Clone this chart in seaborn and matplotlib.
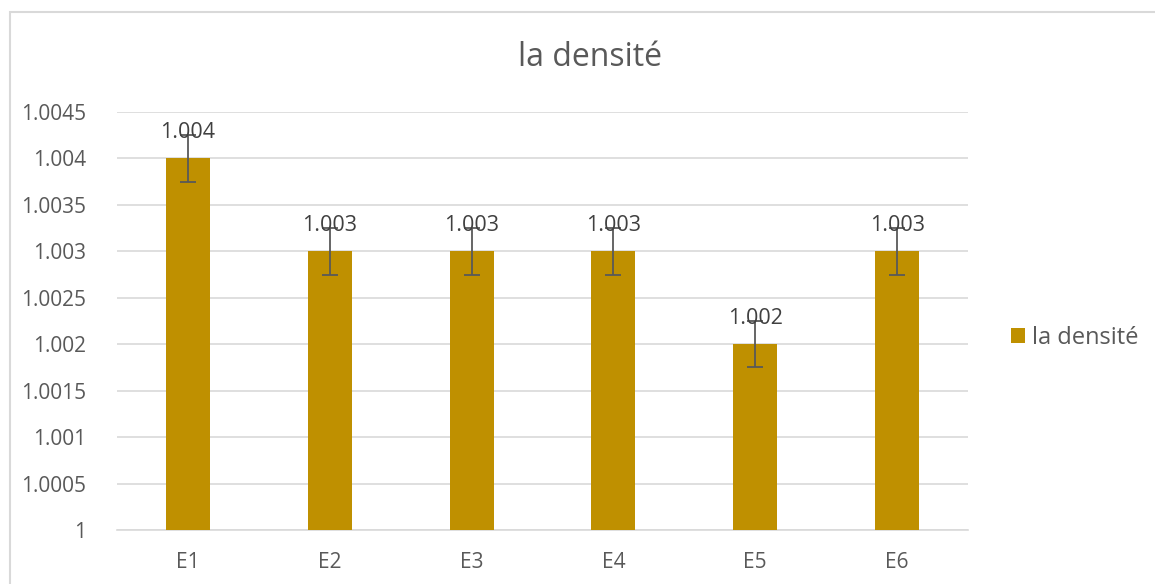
import matplotlib
matplotlib.use("Agg")
import matplotlib.pyplot as plt
import seaborn as sns
import pandas as pd
from matplotlib.patches import Rectangle

categories = ["E1", "E2", "E3", "E4", "E5", "E6"]
values = [1.004, 1.003, 1.003, 1.003, 1.002, 1.003]
errors = [0.00025, 0.00025, 0.00025, 0.00025, 0.00025, 0.00025]
labels = ["1.004", "1.003", "1.003", "1.003", "1.002", "1.003"]
yticks = [1, 1.0005, 1.001, 1.0015, 1.002, 1.0025, 1.003, 1.0035, 1.004, 1.0045]
ytick_labels = ["1", "1.0005", "1.001", "1.0015", "1.002", "1.0025", "1.003", "1.0035", "1.004", "1.0045"]
series_name = "la densité"

sns.set_theme(style="white")
plt.rcParams["font.family"] = ["Open Sans", "DejaVu Sans"]

color = "#BF9000"
txt = "#595959"
grid = "#D9D9D9"

df = pd.DataFrame({"cat": categories, "val": values})

fig = plt.figure(figsize=(11.55, 5.84), dpi=100)
ax = fig.add_axes([117/1155, 1-530/584, (968-117)/1155, (530-112)/584])

sns.barplot(data=df, x="cat", y="val", color=color, width=0.31, ax=ax,
            saturation=1, label=series_name, zorder=3, linewidth=0)
ax.errorbar(range(len(categories)), values, yerr=errors, fmt="none",
            ecolor=txt, elinewidth=1.3, capsize=6, capthick=1.3, zorder=4)
for i, (v, e, l) in enumerate(zip(values, errors, labels)):
    ax.text(i, v + e + 0.00003, l, ha="center", va="center", fontsize=15.5, color="#404040", zorder=5)

ax.set_ylim(1, 1.0045)
ax.set_xlim(-0.5, 5.5)
ax.set_yticks(yticks)
ax.set_yticklabels(ytick_labels)
ax.yaxis.grid(True, color=grid, linewidth=1.2, zorder=0)
ax.set_axisbelow(True)
for s in ["top", "right", "left"]:
    ax.spines[s].set_visible(False)
ax.spines["bottom"].set_color(grid)
ax.spines["bottom"].set_linewidth(1.2)
ax.tick_params(axis="both", length=0, labelsize=15, colors=txt)
ax.tick_params(axis="y", pad=22)
ax.tick_params(axis="x", pad=16)
ax.set_xlabel("")
ax.set_ylabel("")

fig.text(590/1155, 1-58/584, series_name, ha="center", va="center", fontsize=23, color=txt)

leg = ax.legend(loc="center left", bbox_to_anchor=(1011/1155, 1-338/584),
                bbox_transform=fig.transFigure, frameon=False, fontsize=17,
                handlelength=0.6, handleheight=0.6, handletextpad=0.3,
                borderpad=0, borderaxespad=0)
for t in leg.get_texts():
    t.set_color(txt)

fig.patches.append(Rectangle((10/1155, -0.1), 1.2, 1 - 12/584 + 0.1, transform=fig.transFigure,
                             fill=False, edgecolor=grid, linewidth=1.5))

fig.savefig("out.png", dpi=100, facecolor="white")
